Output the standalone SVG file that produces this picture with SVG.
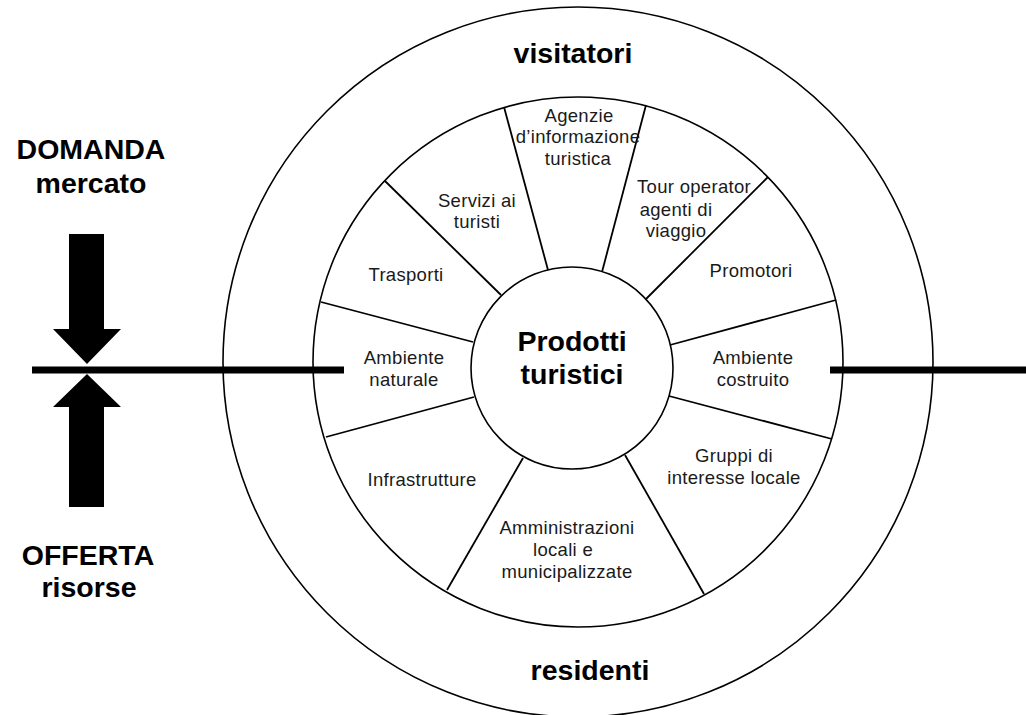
<svg xmlns="http://www.w3.org/2000/svg" width="1026" height="715" viewBox="0 0 1026 715">
<style>
.ring{fill:none;stroke:#000;stroke-width:1.6}
.spoke{stroke:#000;stroke-width:1.8;fill:none}
.bar{stroke:#000;stroke-width:7;fill:none}
.arrow{fill:#000;stroke:none}
.lbl{font-family:"Liberation Sans",Arial,sans-serif;font-size:18.5px;fill:#1a1a1a;text-anchor:middle;letter-spacing:0.3px}
.big{font-family:"Liberation Sans",Arial,sans-serif;font-size:28.5px;font-weight:bold;fill:#000;text-anchor:middle}
</style>
<rect width="1026" height="715" fill="#fff"/>
<g id="outer-ring">
<circle class="ring" cx="578" cy="362" r="355"/>
<text class="big" x="573" y="63">visitatori</text>
<text class="big" x="590" y="680">residenti</text>
</g>
<g id="middle-ring">
<circle class="ring" cx="578" cy="362" r="265" fill="#fff"/>
</g>
<g id="connectors">
<line class="spoke" x1="504" y1="107" x2="548" y2="270"/>
<line class="spoke" x1="385" y1="181" x2="501" y2="295"/>
<line class="spoke" x1="321" y1="302" x2="473" y2="342"/>
<line class="spoke" x1="646" y1="105" x2="602" y2="272"/>
<line class="spoke" x1="768" y1="177" x2="646" y2="299"/>
<line class="spoke" x1="836" y1="300" x2="670" y2="345"/>
<line class="spoke" x1="326" y1="437" x2="474" y2="397"/>
<line class="spoke" x1="447" y1="590" x2="523" y2="458"/>
<line class="spoke" x1="669" y1="396" x2="832" y2="439"/>
<line class="spoke" x1="625" y1="455" x2="704" y2="594"/>
<line class="bar" x1="32" y1="370" x2="344" y2="370"/>
<line class="bar" x1="830" y1="370" x2="1026" y2="370"/>
<polygon class="arrow" points="69,234 104,234 104,329 121,329 87,364 53,329 69,329"/>
<polygon class="arrow" points="87,374 121,407 104,407 104,507 69,507 69,407 53,407"/>
</g>
<g id="domanda">
<text class="big" x="91" y="159">DOMANDA</text>
<text class="big" x="91" y="193">mercato</text>
</g>
<g id="offerta">
<text class="big" x="88" y="565">OFFERTA</text>
<text class="big" x="89" y="597">risorse</text>
</g>
<g id="prodotti-turistici">
<circle class="ring" cx="572" cy="368" r="101" fill="#fff"/>
<text class="big" x="572" y="351">Prodotti</text>
<text class="big" x="572" y="384">turistici</text>
</g>
<g id="agenzie">
<text class="lbl" x="579" y="122">Agenzie</text>
<text class="lbl" x="578" y="143">d’informazione</text>
<text class="lbl" x="578" y="165">turistica</text>
</g>
<g id="tour-operator">
<text class="lbl" x="694" y="193">Tour operator</text>
<text class="lbl" x="676" y="216">agenti di</text>
<text class="lbl" x="676" y="237">viaggio</text>
</g>
<g id="promotori">
<text class="lbl" x="751" y="277">Promotori</text>
</g>
<g id="ambiente-costruito">
<text class="lbl" x="753" y="364">Ambiente</text>
<text class="lbl" x="753" y="386">costruito</text>
</g>
<g id="gruppi">
<text class="lbl" x="734" y="462">Gruppi di</text>
<text class="lbl" x="734" y="484">interesse locale</text>
</g>
<g id="amministrazioni">
<text class="lbl" x="567" y="534">Amministrazioni</text>
<text class="lbl" x="563" y="556">locali e</text>
<text class="lbl" x="567" y="578">municipalizzate</text>
</g>
<g id="infrastrutture">
<text class="lbl" x="422" y="486">Infrastrutture</text>
</g>
<g id="ambiente-naturale">
<text class="lbl" x="404" y="364">Ambiente</text>
<text class="lbl" x="404" y="386">naturale</text>
</g>
<g id="trasporti">
<text class="lbl" x="406" y="281">Trasporti</text>
</g>
<g id="servizi">
<text class="lbl" x="477" y="207">Servizi ai</text>
<text class="lbl" x="477" y="228">turisti</text>
</g>
</svg>
